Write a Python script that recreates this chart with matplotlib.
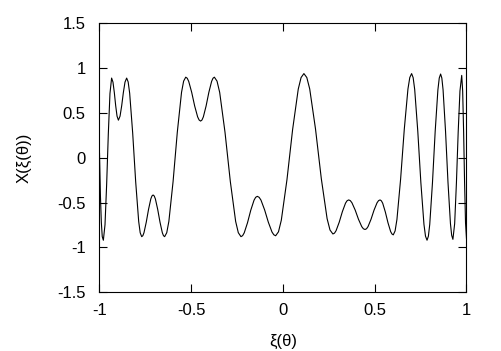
import matplotlib
matplotlib.use("Agg")
import matplotlib.pyplot as plt

# points, left to right (one row per swing)
xi = [
    -1.000, -0.995, -0.990, -0.985, -0.979,
    -0.970, -0.961, -0.952, -0.943, -0.934,
    -0.9266, -0.9192, -0.9118, -0.9044, -0.897,
    -0.888, -0.879, -0.870, -0.861, -0.852,
    -0.8438, -0.8356, -0.8192, -0.8028, -0.7864, -0.7782, -0.770,
    -0.7638, -0.7576, -0.7452, -0.7328, -0.7204, -0.7142, -0.708,
    -0.7017, -0.6954, -0.6828, -0.6702, -0.6576, -0.6513, -0.645,
    -0.6335, -0.622, -0.599, -0.576, -0.553, -0.5415, -0.530,
    -0.5219, -0.5138, -0.4976, -0.4814, -0.4652, -0.4571, -0.449,
    -0.4415, -0.434, -0.419, -0.404, -0.389, -0.3815, -0.374,
    -0.3595, -0.345, -0.316, -0.287, -0.258, -0.2435, -0.229,
    -0.2201, -0.2112, -0.1934, -0.1756, -0.1578, -0.1489, -0.140,
    -0.130, -0.120, -0.100, -0.080, -0.060, -0.050, -0.040,
    -0.0246, -0.0092, 0.0216, 0.0524, 0.0832, 0.0986, 0.114,
    0.1298, 0.1456, 0.1772, 0.2088, 0.2404, 0.2562, 0.272,
    0.2806, 0.2892, 0.3064, 0.3236, 0.3408, 0.3494, 0.358,
    0.3669, 0.3758, 0.3936, 0.4114, 0.4292, 0.4381, 0.447,
    0.4552, 0.4634, 0.4798, 0.4962, 0.5126, 0.5208, 0.529,
    0.5362, 0.5434, 0.5578, 0.5722, 0.5866, 0.5938, 0.601,
    0.611, 0.621, 0.641, 0.661, 0.681, 0.691, 0.701,
    0.7094, 0.7178, 0.7346, 0.7514, 0.7682, 0.7766, 0.785,
    0.7924, 0.7998, 0.8146, 0.8294, 0.8442, 0.8516, 0.859,
    0.8657, 0.8724, 0.8858, 0.8992, 0.9126, 0.9193, 0.926,
    0.9356, 0.9452, 0.9548, 0.9644, 0.974,
    0.9792, 0.9844, 0.9896, 0.9948, 1.000,
]
X = [
    0.05, -0.42, -0.72, -0.88, -0.92,
    -0.747, -0.295, 0.265, 0.717, 0.89,
    0.845, 0.728, 0.582, 0.465, 0.42,
    0.465, 0.582, 0.728, 0.845, 0.89,
    0.847, 0.721, 0.278, -0.268, -0.711, -0.837, -0.88,
    -0.869, -0.836, -0.719, -0.576, -0.459, -0.426, -0.415,
    -0.426, -0.459, -0.576, -0.719, -0.836, -0.869, -0.88,
    -0.836, -0.710, -0.265, 0.285, 0.730, 0.856, 0.90,
    0.888, 0.853, 0.731, 0.579, 0.457, 0.422, 0.41,
    0.422, 0.457, 0.579, 0.731, 0.853, 0.888, 0.90,
    0.856, 0.730, 0.285, -0.265, -0.710, -0.836, -0.88,
    -0.869, -0.837, -0.725, -0.585, -0.473, -0.441, -0.43,
    -0.441, -0.472, -0.582, -0.718, -0.828, -0.859, -0.87,
    -0.826, -0.697, -0.245, 0.315, 0.767, 0.896, 0.94,
    0.896, 0.769, 0.322, -0.232, -0.679, -0.806, -0.85,
    -0.841, -0.814, -0.719, -0.601, -0.506, -0.479, -0.47,
    -0.478, -0.502, -0.584, -0.686, -0.768, -0.792, -0.80,
    -0.792, -0.768, -0.686, -0.584, -0.502, -0.478, -0.47,
    -0.480, -0.507, -0.605, -0.725, -0.823, -0.850, -0.86,
    -0.816, -0.688, -0.238, 0.318, 0.768, 0.896, 0.94,
    0.894, 0.762, 0.297, -0.277, -0.742, -0.874, -0.92,
    -0.875, -0.743, -0.279, 0.294, 0.758, 0.890, 0.935,
    0.890, 0.759, 0.298, -0.273, -0.734, -0.865, -0.91,
    -0.735, -0.278, 0.288, 0.745, 0.92,
    0.746, 0.291, -0.271, -0.726, -0.90,
]

xticks = [-1, -0.5, 0, 0.5, 1]
xticklabels = ["-1", "-0.5", "0", "0.5", "1"]
yticks = [-1.5, -1, -0.5, 0, 0.5, 1, 1.5]
yticklabels = ["-1.5", "-1", "-0.5", "0", "0.5", "1", "1.5"]

plt.rcParams["font.family"] = ["Liberation Sans", "DejaVu Sans"]

fig = plt.figure(figsize=(5.01, 3.51), dpi=100)
ax = fig.add_axes([0.1986, 0.1675, 0.7325, 0.7658])
ax.plot(xi, X, color="black", linewidth=0.8)

ax.set_xlim(-1, 1)
ax.set_ylim(-1.5, 1.5)
ax.set_xticks(xticks)
ax.set_xticklabels(xticklabels)
ax.set_yticks(yticks)
ax.set_yticklabels(yticklabels)
ax.tick_params(direction="in", length=6, width=0.8, labelsize=12,
               top=True, right=True)
ax.tick_params(axis="x", pad=8)
ax.tick_params(axis="y", pad=10)
for sp in ax.spines.values():
    sp.set_linewidth(0.8)

ax.set_xlabel("ξ(θ)", fontsize=12, labelpad=11)
ax.set_ylabel("X(ξ(θ))", fontsize=12, labelpad=18)

fig.savefig("out.png", dpi=100)
